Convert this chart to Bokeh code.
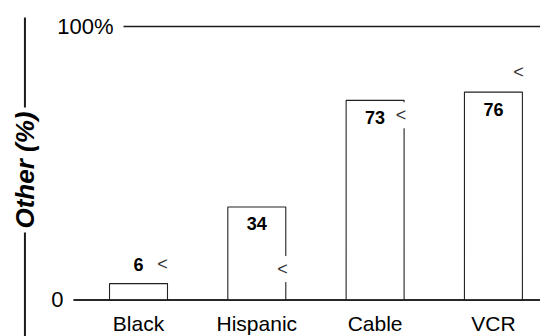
import math
from bokeh.plotting import figure
from bokeh.models import Range1d, ColumnDataSource
from bokeh.core.properties import value
from bokeh.embed import file_html
from bokeh.resources import INLINE

# ---- data ----
categories = ["Black", "Hispanic", "Cable", "VCR"]
values = [6, 34, 73, 76]
y_ticks = [0, 100]
y_tick_labels = ["0", "100%"]
axis_title = "Other (%)"

FONT = value("Liberation Sans")
INK = "#1a1a1a"

p = figure(width=540, height=336, output_backend="svg", toolbar_location=None,
           x_range=Range1d(-1.1665, 3.398), y_range=Range1d(-13.35, 109.5),
           x_axis_location=None, y_axis_location=None, min_border=0)
p.grid.visible = False
p.outline_line_color = None
p.background_fill_color = "white"
p.border_fill_color = "white"

xs = list(range(len(categories)))

# reference lines (0 and 100%)
line_starts = [-0.549, -0.127]
p.segment(x0=line_starts, y0=y_ticks, x1=[3.5] * len(y_ticks), y1=y_ticks,
          line_color=INK, line_width=1.6)

# bars
src = ColumnDataSource(dict(x=xs, top=values, cat=categories,
                            lab=[str(v) for v in values]))
p.vbar(x="x", top="top", bottom=0, width=0.49, source=src,
       fill_color="white", line_color="#222222", line_width=1.1)
# redraw zero line over bar bottoms
p.segment(x0=[-0.549], y0=[0], x1=[3.5], y1=[0], line_color=INK, line_width=1.6)

# value labels: above short bars, inside tall ones
lab_y = [v + 6.8 if v < 15 else v - 6.2 for v in values]
p.text(x=xs, y=lab_y, text=[str(v) for v in values], text_align="center",
       text_baseline="middle", text_font=FONT, text_font_style="bold",
       text_font_size="18px", text_color="black")

# "<" marks (decorative; two of them sit on a bar edge as break notches)
mark_x = [0.203, 1.218, 2.218, 3.212]
mark_y = [13.1, 11.3, 67.5, 83.2]
p.text(x=mark_x, y=mark_y, text=["<"] * 4, text_align="center",
       text_baseline="middle", text_font=FONT, text_font_size="18px",
       text_color="#333333", background_fill_color="white", padding=3)

# category labels
p.text(x=xs, y=[-8.6] * len(xs), text=categories, text_align="center",
       text_baseline="middle", text_font=FONT, text_font_size="21px",
       text_color="black")

# tick labels
p.text(x=[-0.634, -0.211], y=y_ticks, text=y_tick_labels, text_align="right",
       text_baseline="middle", text_font=FONT, text_font_size="22px",
       text_color="black")

# axis title with vertical rule behind it
p.segment(x0=[-0.96], y0=[103.3], x1=[-0.96], y1=[-14], line_color=INK,
          line_width=2)
p.text(x=[-0.96], y=[47.5], text=[axis_title], angle=math.pi / 2,
       text_align="center", text_baseline="middle", text_font=FONT,
       text_font_style="bold italic", text_font_size="26px", text_color="black",
       background_fill_color="white", padding=4)

open("out.html", "w").write(file_html(p, INLINE))
